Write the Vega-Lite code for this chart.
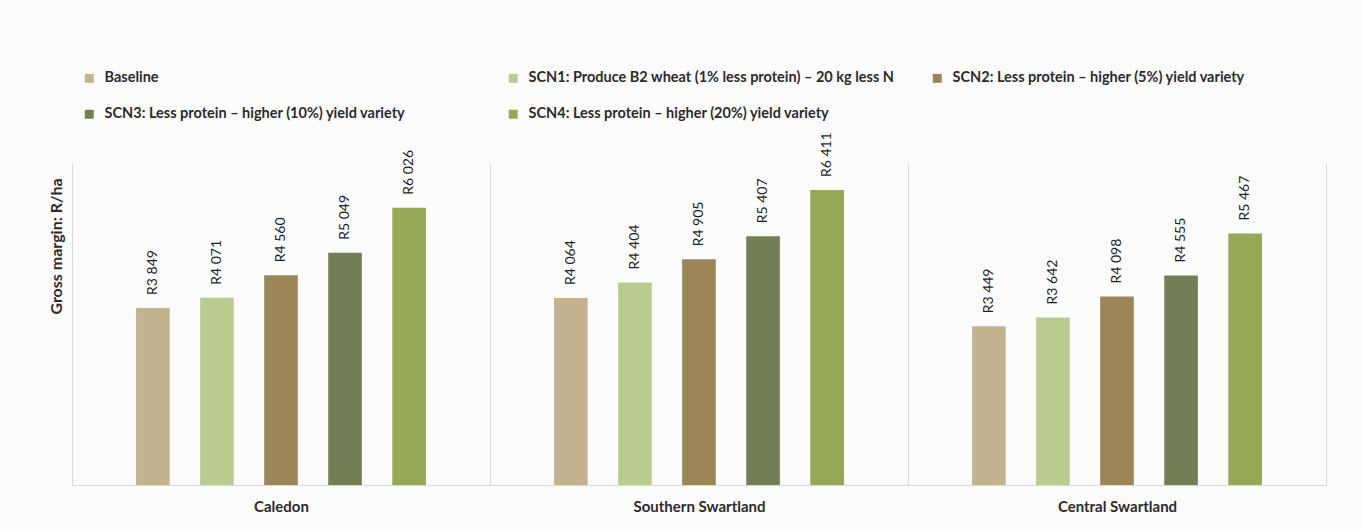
{
  "$schema": "https://vega.github.io/schema/vega-lite/v6.json",
  "width": 1254,
  "height": 322,
  "autosize": {"type": "none"},
  "padding": {"left": 72, "top": 163, "right": 36, "bottom": 44},
  "background": "#fcfcfd",
  "config": {
    "font": "Lato",
    "view": {"stroke": null},
    "text": {"font": "Lato"}
  },
  "data": {
    "values": [
      {"region": "Caledon", "scenario": "Baseline", "value": 3849, "label": "R3 849"},
      {"region": "Caledon", "scenario": "SCN1: Produce B2 wheat (1% less protein) – 20 kg less N", "value": 4071, "label": "R4 071"},
      {"region": "Caledon", "scenario": "SCN2: Less protein – higher (5%) yield variety", "value": 4560, "label": "R4 560"},
      {"region": "Caledon", "scenario": "SCN3: Less protein – higher (10%) yield variety", "value": 5049, "label": "R5 049"},
      {"region": "Caledon", "scenario": "SCN4: Less protein – higher (20%) yield variety", "value": 6026, "label": "R6 026"},
      {"region": "Southern Swartland", "scenario": "Baseline", "value": 4064, "label": "R4 064"},
      {"region": "Southern Swartland", "scenario": "SCN1: Produce B2 wheat (1% less protein) – 20 kg less N", "value": 4404, "label": "R4 404"},
      {"region": "Southern Swartland", "scenario": "SCN2: Less protein – higher (5%) yield variety", "value": 4905, "label": "R4 905"},
      {"region": "Southern Swartland", "scenario": "SCN3: Less protein – higher (10%) yield variety", "value": 5407, "label": "R5 407"},
      {"region": "Southern Swartland", "scenario": "SCN4: Less protein – higher (20%) yield variety", "value": 6411, "label": "R6 411"},
      {"region": "Central Swartland", "scenario": "Baseline", "value": 3449, "label": "R3 449"},
      {"region": "Central Swartland", "scenario": "SCN1: Produce B2 wheat (1% less protein) – 20 kg less N", "value": 3642, "label": "R3 642"},
      {"region": "Central Swartland", "scenario": "SCN2: Less protein – higher (5%) yield variety", "value": 4098, "label": "R4 098"},
      {"region": "Central Swartland", "scenario": "SCN3: Less protein – higher (10%) yield variety", "value": 4555, "label": "R4 555"},
      {"region": "Central Swartland", "scenario": "SCN4: Less protein – higher (20%) yield variety", "value": 5467, "label": "R5 467"}
    ]
  },
  "encoding": {
    "x": {
      "field": "region", "type": "nominal",
      "sort": ["Caledon", "Southern Swartland", "Central Swartland"],
      "scale": {"paddingInner": 0, "paddingOuter": 0},
      "axis": {
        "title": null, "labelAngle": 0, "labelFontSize": 15, "labelFontWeight": "bold", "labelColor": "#2b2b2b",
        "labelPadding": 14, "ticks": false, "domain": true, "domainColor": "#d9d9d9",
        "grid": true, "gridColor": "#d9d9d9", "tickBand": "extent"
      }
    },
    "xOffset": {
      "field": "scenario", "type": "nominal",
      "sort": [
        "Baseline",
        "SCN1: Produce B2 wheat (1% less protein) – 20 kg less N",
        "SCN2: Less protein – higher (5%) yield variety",
        "SCN3: Less protein – higher (10%) yield variety",
        "SCN4: Less protein – higher (20%) yield variety"
      ],
      "scale": {"paddingInner": 0.475, "paddingOuter": 1.16}
    },
    "y": {
      "field": "value", "type": "quantitative",
      "scale": {"domain": [0, 7000], "nice": false},
      "axis": {
        "title": "Gross margin: R/ha", "titleFontSize": 16, "titleColor": "#2b2b2b",
        "titleFontWeight": "bold", "titlePadding": 8, "titleY": 83,
        "labels": false, "ticks": false, "domain": false, "grid": false
      }
    }
  },
  "layer": [
    {
      "mark": {"type": "bar"},
      "encoding": {
        "color": {
          "field": "scenario", "type": "nominal",
          "sort": [
            "Baseline",
            "SCN1: Produce B2 wheat (1% less protein) – 20 kg less N",
            "SCN2: Less protein – higher (5%) yield variety",
            "SCN3: Less protein – higher (10%) yield variety",
            "SCN4: Less protein – higher (20%) yield variety"
          ],
          "scale": {"range": ["#c4b391", "#b8cc90", "#9c8557", "#727f55", "#94a855"]},
          "legend": {
            "title": null, "orient": "none", "legendX": 10, "legendY": -92,
            "direction": "horizontal", "columns": 3, "gridAlign": "all",
            "columnPadding": 35, "rowPadding": 21,
            "symbolType": "square", "symbolSize": 80, "symbolStrokeWidth": 0,
            "labelFontSize": 14.5, "labelFontWeight": "bold", "labelColor": "#2b2b2b", "labelLimit": 600, "labelOffset": 8
          }
        }
      }
    },
    {
      "mark": {"type": "text", "angle": -90, "align": "left", "baseline": "middle", "dx": 13, "fontSize": 14, "color": "#1f1f1f"},
      "encoding": {"text": {"field": "label"}}
    }
  ]
}
